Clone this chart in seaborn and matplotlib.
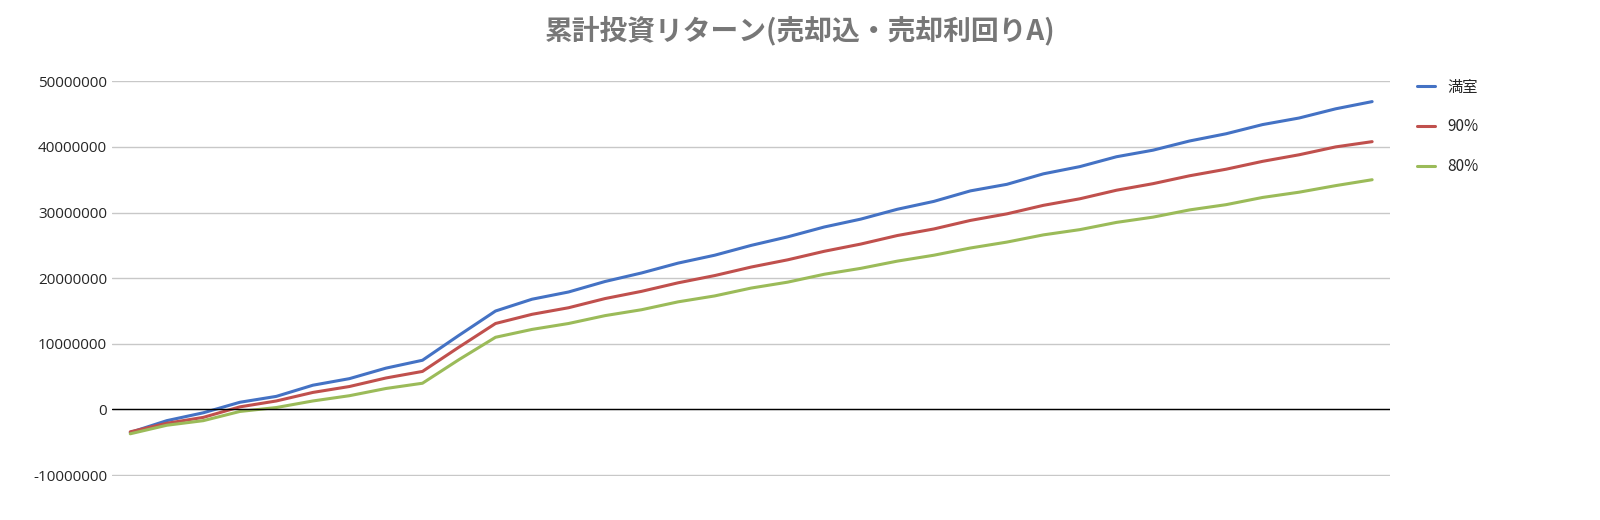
import numpy as np
import pandas as pd
import matplotlib
matplotlib.use("Agg")
import matplotlib.pyplot as plt
import seaborn as sns

# values in units of 1,000,000 yen
full = [-3.5, -1.7, -0.5, 1.1, 2.0, 3.7, 4.7, 6.3, 7.5, 11.3, 15.0, 16.8, 17.9, 19.5, 20.8,
        22.3, 23.5, 25.0, 26.3, 27.8, 29.0, 30.5, 31.7, 33.3, 34.3, 35.9, 37.0, 38.5, 39.5,
        40.9, 42.0, 43.4, 44.4, 45.8, 46.9]
p90 = [-3.4, -2.1, -1.2, 0.4, 1.3, 2.6, 3.5, 4.8, 5.8, 9.5, 13.1, 14.5, 15.5, 16.9, 18.0,
       19.3, 20.4, 21.7, 22.8, 24.1, 25.2, 26.5, 27.5, 28.8, 29.8, 31.1, 32.1, 33.4, 34.4,
       35.6, 36.6, 37.8, 38.8, 40.0, 40.8]
p80 = [-3.7, -2.4, -1.7, -0.3, 0.3, 1.3, 2.1, 3.2, 4.0, 7.6, 11.0, 12.2, 13.1, 14.3, 15.2,
       16.4, 17.3, 18.5, 19.4, 20.6, 21.5, 22.6, 23.5, 24.6, 25.5, 26.6, 27.4, 28.5, 29.3,
       30.4, 31.2, 32.3, 33.1, 34.1, 35.0]
labels = ["満室", "90%", "80%"]
colors = ["#4472C4", "#C0504D", "#9BBB59"]

years = np.arange(1, len(full) + 1)
df = pd.DataFrame({"year": np.tile(years, 3),
                   "value": np.concatenate([full, p90, p80]) * 1e6,
                   "series": np.repeat(labels, len(full))})

sns.set_theme(style="white")
plt.rcParams['font.family'] = ['Open Sans', 'Noto Sans CJK JP', 'DejaVu Sans']

fig = plt.figure(figsize=(16, 5.2), dpi=100)
ax = fig.add_axes([0.07, 0.085, 0.799, 0.76])
sns.lineplot(data=df, x="year", y="value", hue="series", palette=colors,
             linewidth=2.2, ax=ax)

ticks = np.arange(-10e6, 50e6 + 1, 10e6)
ax.set_ylim(-10.1e6, 50.1e6)
ax.set_xlim(0.5, len(full) + 0.5)
ax.set_yticks(ticks)
ax.set_yticklabels([f"{int(v)}" for v in ticks], fontsize=11)
ax.set_xticks([])
ax.set_xlabel("")
ax.set_ylabel("")
ax.grid(axis="y", color="#c8c8c8", linewidth=1)
ax.axhline(0, color="black", linewidth=1)
for s in ax.spines.values():
    s.set_visible(False)
ax.tick_params(axis="y", length=0)

leg = ax.legend(loc="upper left", bbox_to_anchor=(1.01, 1.04), frameon=False,
                fontsize=11, handlelength=1.2, labelspacing=1.5)
for t in leg.get_texts():
    t.set_family(['Noto Sans CJK JP', 'DejaVu Sans'])
fig.suptitle("累計投資リターン(売却込・売却利回りA)", fontsize=20, fontweight="bold",
             color="#777777", y=0.97, family=['Noto Sans CJK JP', 'DejaVu Sans'])

fig.savefig("out.png")
